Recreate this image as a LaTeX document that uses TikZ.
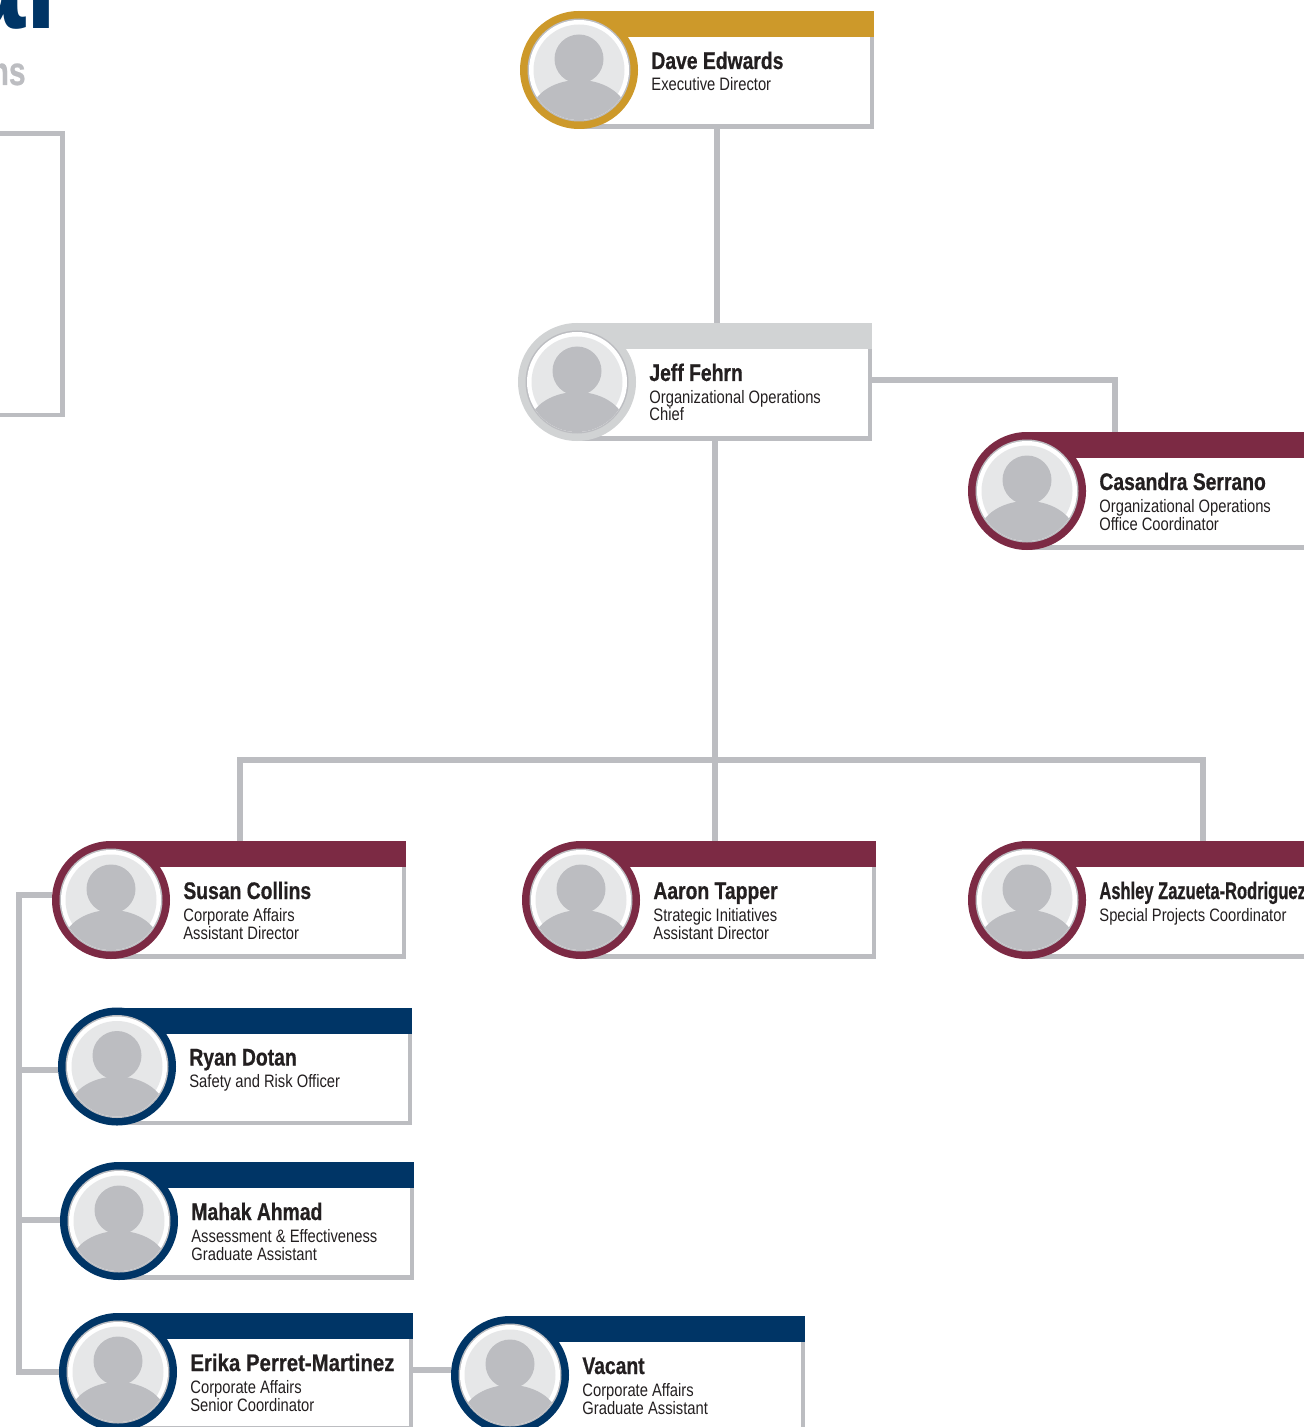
\documentclass[tikz,border=0pt]{standalone}
\usepackage{fontspec}
\setmainfont{Liberation Sans}
\newfontfamily\namefont[FakeStretch=0.805,FakeBold=0.6]{Liberation Sans Bold}
\newfontfamily\namefontwide[FakeStretch=0.85,FakeBold=0.6]{Liberation Sans Bold}
\newfontfamily\namefonttight[FakeStretch=0.688,FakeBold=0.6]{Liberation Sans Bold}
\newfontfamily\subfont[FakeStretch=0.82]{Liberation Sans}
\newfontfamily\headfont[FakeStretch=0.8]{Liberation Sans Bold}
\newfontfamily\subheadfont[FakeStretch=0.75,FakeBold=0.6]{Liberation Sans Bold}
\definecolor{gold}{HTML}{CD992A}
\definecolor{maroon}{HTML}{7C2A44}
\definecolor{navy}{HTML}{003566}
\definecolor{linegray}{HTML}{BCBDC1}
\definecolor{palegray}{HTML}{D1D3D4}
\definecolor{facegray}{HTML}{E6E7E8}
\definecolor{ink}{HTML}{231F20}
\tikzset{
  conn/.style={draw=linegray,line width=3pt,line join=miter},
  panelline/.style={draw=linegray,line width=2.25pt,line join=miter},
  cardarea/.style={inner sep=0pt,outer sep=0pt,anchor=north west},
  cardname/.style={inner sep=0pt,anchor=base west,text=ink,font=\fontsize{12}{12}\selectfont},
  cardsub/.style={inner sep=0pt,anchor=base west,text=ink,font=\subfont\fontsize{9}{9}\selectfont},
}
% #1 id, #2 cx, #3 cy, #4 right edge
\newcommand{\orgarea}[4]{%
  \pgfmathsetmacro{\wpt}{(#4-#2+59)*0.5}%
  \node[cardarea,minimum width=\wpt pt,minimum height=59pt] (#1) at (#2-59,#3-59) {};%
}
% #1 id, #2 cx, #3 cy, #4 right edge, #5 colour, #6 name, #7 line 1, #8 line 2
\newcommand{\orgcard}[8]{%
  \fill[white] (#2,#3-40) rectangle (#4,#3+58);
  \draw[linegray,line width=2.25pt] (#2,#3+56.5) -- (#4-2.25,#3+56.5) -- (#4-2.25,#3-40);
  \fill[#5] (#2,#3-59) rectangle (#4,#3-33);
  \fill[#5] (#2,#3) circle[radius=59];
  \fill[linegray] (#2,#3) circle[radius=51.5];
  \fill[white] (#2,#3) circle[radius=50];
  \fill[facegray] (#2,#3) circle[radius=45.5];
  \begin{scope}
    \clip (#2,#3) circle[radius=50];
    \fill[linegray] (#2,#3+46) ellipse[x radius=49,y radius=36];
  \end{scope}
  \fill[linegray] (#2,#3-11) circle[radius=24.5];
  \node[cardname] (#1name) at (#2+72,#3-1) {#6};
  \node[cardsub] (#1subA) at (#2+72,#3+21) {#7};
  \if\relax\detokenize{#8}\relax\else
    \node[cardsub] (#1subB) at (#2+72,#3+39) {#8};
  \fi
}
\begin{document}
\begin{tikzpicture}[x=0.5pt,y=-0.5pt]
\useasboundingbox (0,0) rectangle (1303,1427);
% card areas
\orgarea{dave}{579}{70}{874}
\orgarea{jeff}{577}{382}{872}
\orgarea{casandra}{1027}{491}{1330}
\orgarea{susan}{111}{900}{406}
\orgarea{aaron}{581}{900}{876}
\orgarea{ashley}{1027}{900}{1330}
\orgarea{ryan}{117}{1066.5}{412}
\orgarea{mahak}{119}{1221}{414}
\orgarea{erika}{118}{1372}{413}
\orgarea{vacant}{510}{1375}{805}
% routing points
\coordinate (trunkA) at (717,200);
\coordinate (trunkB) at (715,760);
\coordinate (branchL) at (240,760);
\coordinate (branchR) at (1203,760);
\coordinate (sideC) at (1115,380);
\coordinate (busTop) at (19,895);
\coordinate (busBottom) at (19,1372);
\coordinate (stubRyan) at (19,1070);
\coordinate (stubMahak) at (19,1220);
\coordinate (stubVacant) at (430,1370);
% connectors
\draw[conn] (dave.south -| trunkA) -- (jeff.north -| trunkA);
\draw[conn] (jeff.east |- sideC) -- (sideC) -- (casandra.north -| sideC);
\draw[conn] (jeff.south -| trunkB) -- (aaron.north -| trunkB);
\draw[conn] (susan.north -| branchL) -- (branchL) -- (branchR) -- (ashley.north -| branchR);
\draw[conn] (susan.west |- busTop) -- (busTop) -- (busBottom) -- (erika.west |- busBottom);
\draw[conn] (stubRyan) -- (ryan.west |- stubRyan);
\draw[conn] (stubMahak) -- (mahak.west |- stubMahak);
\draw[conn] (erika.east |- stubVacant) -- (vacant.west |- stubVacant);
% cards
\orgcard{daveT}{579}{70}{874}{gold}{\namefont Dave Edwards}{Executive Director}{}
\orgcard{jeffT}{577}{382}{872}{palegray}{\namefont Jeff Fehrn}{Organizational Operations}{Chief}
\orgcard{casandraT}{1027}{491}{1330}{maroon}{\namefont Casandra Serrano}{Organizational Operations}{Office Coordinator}
\orgcard{susanT}{111}{900}{406}{maroon}{\namefont Susan Collins}{Corporate Affairs}{Assistant Director}
\orgcard{aaronT}{581}{900}{876}{maroon}{\namefont Aaron Tapper}{Strategic Initiatives}{Assistant Director}
\orgcard{ashleyT}{1027}{900}{1330}{maroon}{\namefonttight Ashley Zazueta-Rodriguez}{Special Projects Coordinator}{}
\orgcard{ryanT}{117}{1066.5}{412}{navy}{\namefont Ryan Dotan}{Safety and Risk Officer}{}
\orgcard{mahakT}{119}{1221}{414}{navy}{\namefont Mahak Ahmad}{Assessment \& Effectiveness}{Graduate Assistant}
\orgcard{erikaT}{118}{1372}{413}{navy}{\namefontwide Erika Perret-Martinez}{Corporate Affairs}{Senior Coordinator}
\orgcard{vacantT}{510}{1375}{805}{navy}{\namefont Vacant}{Corporate Affairs}{Graduate Assistant}
% cropped header parts and side panel
\node[inner sep=0pt,anchor=base east,text=navy,font=\headfont\fontsize{72}{72}\selectfont] (title) at (58,29) {al};
\node[inner sep=0pt,anchor=base east,text=linegray,font=\subheadfont\fontsize{20}{20}\selectfont] (subtitle) at (26,85) {ns};
\draw[panelline] (-10,133.5) -- (62.5,133.5) -- (62.5,415) -- (-10,415);
\end{tikzpicture}
\end{document}
